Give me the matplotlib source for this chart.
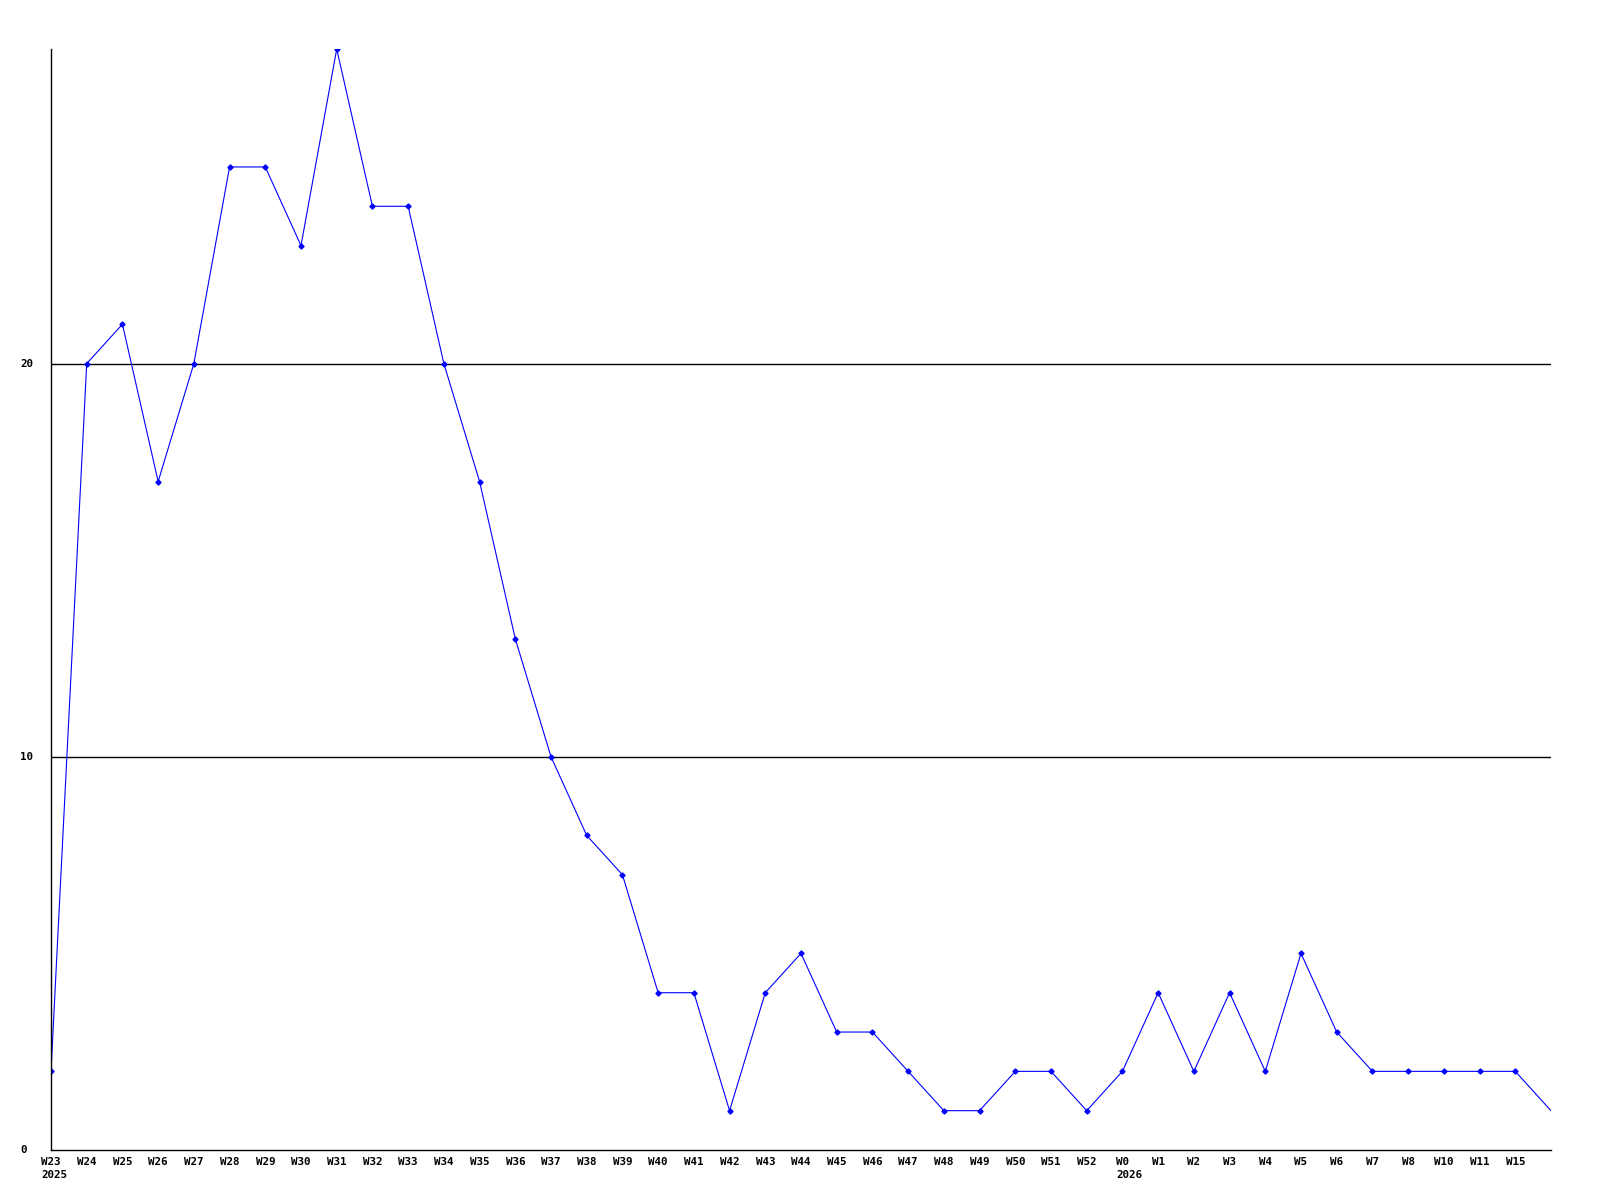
import matplotlib
matplotlib.use("Agg")
import matplotlib.pyplot as plt
import matplotlib.transforms as mtransforms

weeks = ["W23", "W24", "W25", "W26", "W27", "W28", "W29", "W30", "W31", "W32",
         "W33", "W34", "W35", "W36", "W37", "W38", "W39", "W40", "W41", "W42",
         "W43", "W44", "W45", "W46", "W47", "W48", "W49", "W50", "W51", "W52",
         "W0", "W1", "W2", "W3", "W4", "W5", "W6", "W7", "W8", "W10", "W11", "W15"]
counts = [2, 20, 21, 17, 20, 25, 25, 23, 28, 24,
          24, 20, 17, 13, 10, 8, 7, 4, 4, 1,
          4, 5, 3, 3, 2, 1, 1, 2, 2, 1,
          2, 4, 2, 4, 2, 5, 3, 2, 2, 2, 2, 2]
# current (partial) week, drawn without a marker or label
last_count = 1
years = {"W23": "2025", "W0": "2026"}
yticks = [0, 10, 20]

font = dict(family="DejaVu Sans Mono", fontweight="bold", fontsize=7.8)

fig = plt.figure(figsize=(16, 12), dpi=100)
ax = fig.add_axes([51/1600, 1 - 1150/1200, 1500/1600, (1150 - 49)/1200])

x = list(range(len(weeks)))
ax.plot(x + [len(weeks)], counts + [last_count], color="#0000ff", lw=0.8)
ax.plot(x, counts, ls="none", marker="D", ms=2.6, color="#0000ff")

for v in yticks[1:]:
    ax.axhline(v, color="black", lw=1, zorder=0)

ax.set_xlim(0, len(weeks))
ax.set_ylim(0, 28)
ax.spines["top"].set_visible(False)
ax.spines["right"].set_visible(False)
ax.spines["left"].set_linewidth(1)
ax.spines["bottom"].set_linewidth(1)

ax.set_xticks(x)
ax.set_xticklabels(weeks, **font)
ax.tick_params(axis="x", length=0, pad=5)
ax.set_yticks([])

trans = mtransforms.blended_transform_factory(fig.transFigure, ax.transData)
for v in yticks:
    ax.text(20/1600, v, str(v), transform=trans, ha="left", va="center", **font)

fig.canvas.draw()
r = fig.canvas.get_renderer()
inv = fig.transFigure.inverted()
for lab in ax.get_xticklabels():
    t = lab.get_text()
    if t in years:
        bb = lab.get_window_extent(r)
        x0, y0 = inv.transform((bb.x0, bb.y0))
        fig.text(x0, y0 - 3/1200, years[t], ha="left", va="top", **font)

fig.savefig("out.png", dpi=100)
